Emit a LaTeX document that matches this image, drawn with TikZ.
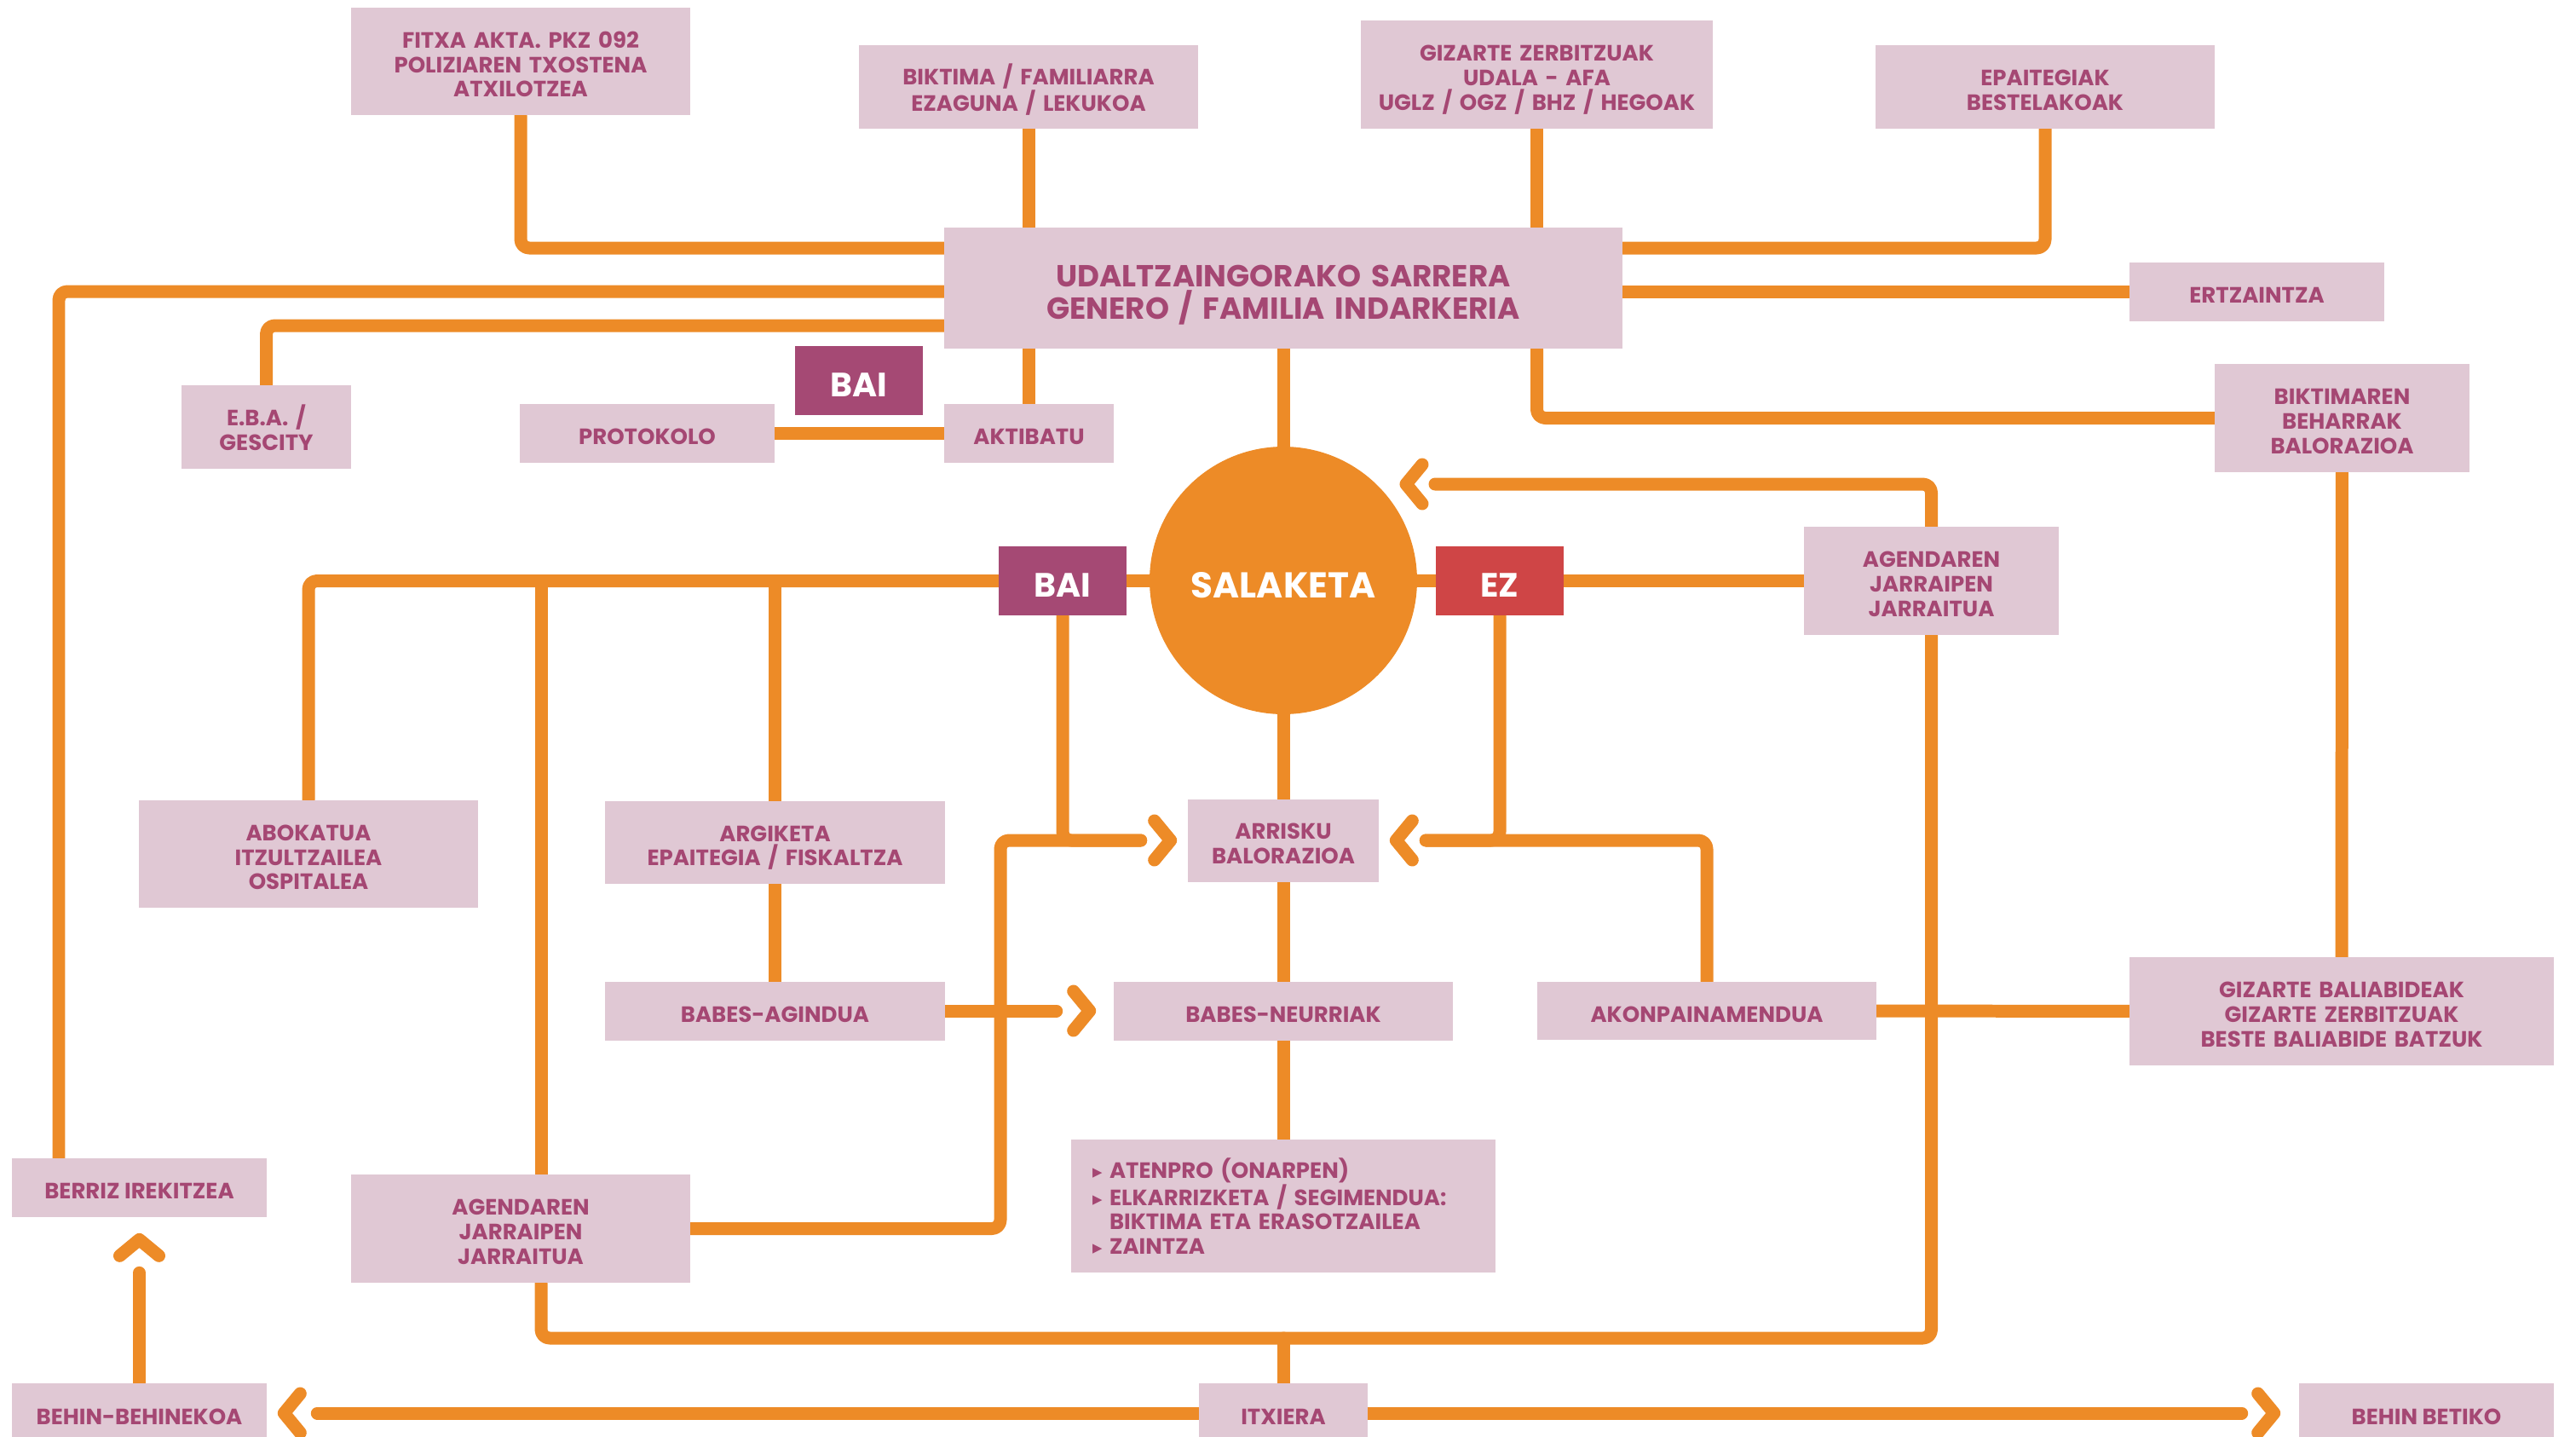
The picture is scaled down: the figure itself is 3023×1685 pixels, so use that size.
\documentclass[tikz,border=0pt]{standalone}
\usepackage{fontspec}
\setmainfont{Poppins}
\newfontfamily\symfnt{DejaVu Sans}
\usetikzlibrary{backgrounds}
\setlength{\parindent}{0pt}
\definecolor{boxpink}{RGB}{224,200,212}
\definecolor{txtmag}{RGB}{165,71,115}
\definecolor{orng}{RGB}{237,139,39}
\definecolor{baimag}{RGB}{165,73,116}
\definecolor{ezred}{RGB}{207,69,70}
\newcommand{\lblfont}{\fontsize{14.8}{16.4}\selectfont\bfseries}
\newcommand{\bigfont}{\fontsize{20.3}{21.8}\selectfont\bfseries}
\newcommand{\keyfont}{\fontsize{22.5}{24}\selectfont\bfseries}
\newcommand{\bul}{\makebox[0.4cm][l]{\symfnt\mdseries\fontsize{13}{14}\selectfont ▸}}
\tikzstyle{listbox} = [fill=boxpink, text=txtmag, font=\lblfont, inner sep=0pt]
\tikzstyle{box} = [listbox, align=center, execute at begin node={\noindent\rule{0pt}{0.673cm}}, execute at end node={\rule[-0.15cm]{0pt}{0.15cm}}]
\tikzstyle{key} = [text=white, font=\keyfont, inner sep=0pt, minimum width=3cm, minimum height=1.62cm, execute at begin node={\rule{0pt}{0.9cm}}, execute at end node={\rule[-0.15cm]{0pt}{0.15cm}}]
\tikzstyle{wire} = [draw=orng, line width=0.3cm, rounded corners=0.2cm, line cap=round, line join=round]
\tikzset{chev/.pic={\draw[wire, sharp corners] (-19,-23) -- (0,0) -- (-19,23);}}

\begin{document}
\begin{tikzpicture}[x=0.02cm, y=-0.02cm]
        \useasboundingbox (0,0) rectangle (3023,1685);
        % top row
        \node[box, text width=7.96cm, minimum height=2.52cm] (fitxa) at (611,72) {FITXA AKTA. PKZ 092\\POLIZIAREN TXOSTENA\\ATXILOTZEA};
        \node[box, text width=7.96cm, minimum height=1.96cm] (biktima) at (1207,102) {BIKTIMA / FAMILIARRA\\EZAGUNA / LEKUKOA};
        \node[box, text width=8.26cm, minimum height=2.54cm] (gizarte) at (1803.5,87.5) {GIZARTE ZERBITZUAK\\UDALA - AFA\\UGLZ / OGZ / BHZ / HEGOAK};
        \node[box, text width=7.96cm, minimum height=1.96cm] (epaitegiak) at (2400,102) {EPAITEGIAK\\BESTELAKOAK};
        \node[box, font=\bigfont, execute at begin node={\rule{0pt}{0.847cm}}, text width=15.92cm, minimum height=2.84cm] (udal) at (1506,338) {UDALTZAINGORAKO SARRERA\\GENERO / FAMILIA INDARKERIA};
        \node[box, minimum width=5.98cm, minimum height=1.38cm] (ertzaintza) at (2648.5,342.5) {ERTZAINTZA};
        \node[box, text width=5.98cm, minimum height=2.54cm] (biktbal) at (2748.5,490.5) {BIKTIMAREN\\BEHARRAK\\BALORAZIOA};
        \node[box, text width=3.98cm, minimum height=1.96cm] (eba) at (312.5,501) {E.B.A. /\\GESCITY};
        \node[box, minimum width=5.98cm, minimum height=1.38cm] (protokolo) at (759.5,508.5) {PROTOKOLO};
        \node[key, fill=baimag] (baitop) at (1008,446.5) {BAI};
        \node[box, minimum width=3.98cm, minimum height=1.38cm] (aktibatu) at (1207.5,508.5) {AKTIBATU};
        % salaketa row
        \node[circle, fill=orng, text=white, font={\fontsize{24}{26}\selectfont\bfseries}, minimum size=6.28cm, inner sep=0pt, execute at begin node={\rule{0pt}{0.96cm}}, execute at end node={\rule[-0.15cm]{0pt}{0.15cm}}] (salaketa) at (1506,681) {SALAKETA};
        \node[key, fill=baimag] (bai) at (1247,681.5) {BAI};
        \node[key, fill=ezred] (ez) at (1760,681.5) {EZ};
        \node[box, text width=5.98cm, minimum height=2.54cm] (agendaR) at (2266.5,681.5) {AGENDAREN\\JARRAIPEN\\JARRAITUA};
        % middle
        \node[box, text width=7.96cm, minimum height=2.52cm] (abokatua) at (362,1002) {ABOKATUA\\ITZULTZAILEA\\OSPITALEA};
        \node[box, text width=7.98cm, minimum height=1.94cm] (argiketa) at (909.5,988.5) {ARGIKETA\\EPAITEGIA / FISKALTZA};
        \node[box, text width=4.48cm, minimum height=1.94cm] (arrisku) at (1506,986) {ARRISKU\\BALORAZIOA};
        \node[box, minimum width=7.98cm, minimum height=1.38cm] (babesag) at (909.5,1186) {BABES-AGINDUA};
        \node[box, minimum width=7.96cm, minimum height=1.38cm] (babesneur) at (1506,1186) {BABES-NEURRIAK};
        \node[box, minimum width=7.96cm, minimum height=1.36cm] (akonp) at (2003,1186) {AKONPAINAMENDUA};
        \node[box, text width=9.96cm, minimum height=2.54cm] (gizbal) at (2748,1186.5) {GIZARTE BALIABIDEAK\\GIZARTE ZERBITZUAK\\BESTE BALIABIDE BATZUK};
        \node[listbox, align=left, text width=8.96cm, inner xsep=0.5cm, minimum height=3.12cm] (atenpro) at (1506,1415) {\bul ATENPRO (ONARPEN)\\\bul ELKARRIZKETA / SEGIMENDUA:\\\hspace*{0.4cm}BIKTIMA ETA ERASOTZAILEA\\\bul ZAINTZA};
        % bottom
        \node[box, minimum width=5.98cm, minimum height=1.38cm] (berriz) at (163.5,1393.5) {BERRIZ IREKITZEA};
        \node[box, text width=7.96cm, minimum height=2.54cm] (agendaL) at (611,1441.5) {AGENDAREN\\JARRAIPEN\\JARRAITUA};
        \node[box, minimum width=5.98cm, minimum height=1.40cm] (behinbeh) at (163.5,1658) {BEHIN-BEHINEKOA};
        \node[box, minimum width=3.98cm, minimum height=1.40cm] (itxiera) at (1506,1658) {ITXIERA};
        \node[box, minimum width=5.98cm, minimum height=1.40cm] (behinbet) at (2847.5,1658) {BEHIN BETIKO};
        % junction rows and columns
        \coordinate (rowA) at (0,291);
        \coordinate (rowB) at (0,342);
        \coordinate (rowC) at (0,382);
        \coordinate (rowE) at (0,1570);
        \coordinate (colL) at (69,0);
        \coordinate (colM) at (635,0);
        \coordinate (colB) at (1174,0);
        \coordinate (aL) at ([xshift=-1.1cm]arrisku.west);
        \coordinate (aR) at ([xshift=1.1cm]arrisku.east);
        \coordinate (tS) at (1650,568);
        \coordinate (eS) at (1684,568);
        \begin{scope}[on background layer]
          \fill[white] (0,0) rectangle (3023,1685);
          % around the entry box
          \draw[wire] (fitxa) |- (udal.west |- rowA);
          \draw[wire] (biktima) -- (biktima |- udal.north);
          \draw[wire] (gizarte) -- (gizarte |- udal.north);
          \draw[wire] (epaitegiak) |- (udal.east |- rowA);
          \draw[wire] (udal.east |- rowB) -- (ertzaintza.west |- rowB);
          \draw[wire] (udal.west |- rowB) -| (colL |- berriz.north);
          \draw[wire] (udal.west |- rowC) -| (eba);
          \draw[wire] (udal.south -| gizarte) |- (biktbal);
          \draw[wire] (aktibatu) -- (aktibatu |- udal.south);
          \draw[wire] (protokolo) -- (aktibatu);
          \draw[wire] (udal) -- (salaketa);
          % salaketa
          \draw[wire] (bai) -- (salaketa);
          \draw[wire] (salaketa) -- (ez);
          \draw[wire] (ez) -- (agendaR);
          \draw[wire] (agendaR) |- (eS);
          \pic[rotate=180] at (tS) {chev};
          \draw[wire] (bai) -| (abokatua);
          \draw[wire] (colM |- bai) -- (colM |- agendaL.north);
          \draw[wire] (argiketa) -- (argiketa |- bai);
          \draw[wire] (argiketa) -- (babesag);
          % arrisku
          \draw[wire] (bai) |- (aL);
          \draw[wire] (agendaL) -| (colB |- aL) -- (aL);
          \pic at ([xshift=-0.4cm]arrisku.west) {chev};
          \draw[wire] (ez) |- (aR);
          \draw[wire] (aR) -| (akonp);
          \pic[rotate=180] at ([xshift=0.4cm]arrisku.east) {chev};
          \draw[wire] (salaketa) -- (arrisku);
          \draw[wire] (arrisku) -- (babesneur);
          \draw[wire] (babesneur) -- (atenpro);
          \draw[wire] (babesag) -- ([xshift=-1.34cm]babesneur.west);
          \pic at ([xshift=-0.56cm]babesneur.west) {chev};
          \draw[wire] (akonp) -- (gizbal);
          \draw[wire] (biktbal) -- (gizbal);
          % closing
          \draw[wire] (agendaR) |- (colM |- rowE) -- (colM |- agendaL.south);
          \draw[wire] (itxiera) -- (itxiera |- rowE);
          \draw[wire] (itxiera) -- ([xshift=1.18cm]behinbeh.east);
          \pic[rotate=180] at ([xshift=0.4cm]behinbeh.east) {chev};
          \draw[wire] (itxiera) -- ([xshift=-1.34cm]behinbet.west);
          \pic at ([xshift=-0.58cm]behinbet.west) {chev};
          \draw[wire] (behinbeh) -- ([yshift=-1.3cm]berriz.south);
          \pic[rotate=90] at ([yshift=-0.52cm]berriz.south) {chev};
        \end{scope}
      \end{tikzpicture}
\end{document}
